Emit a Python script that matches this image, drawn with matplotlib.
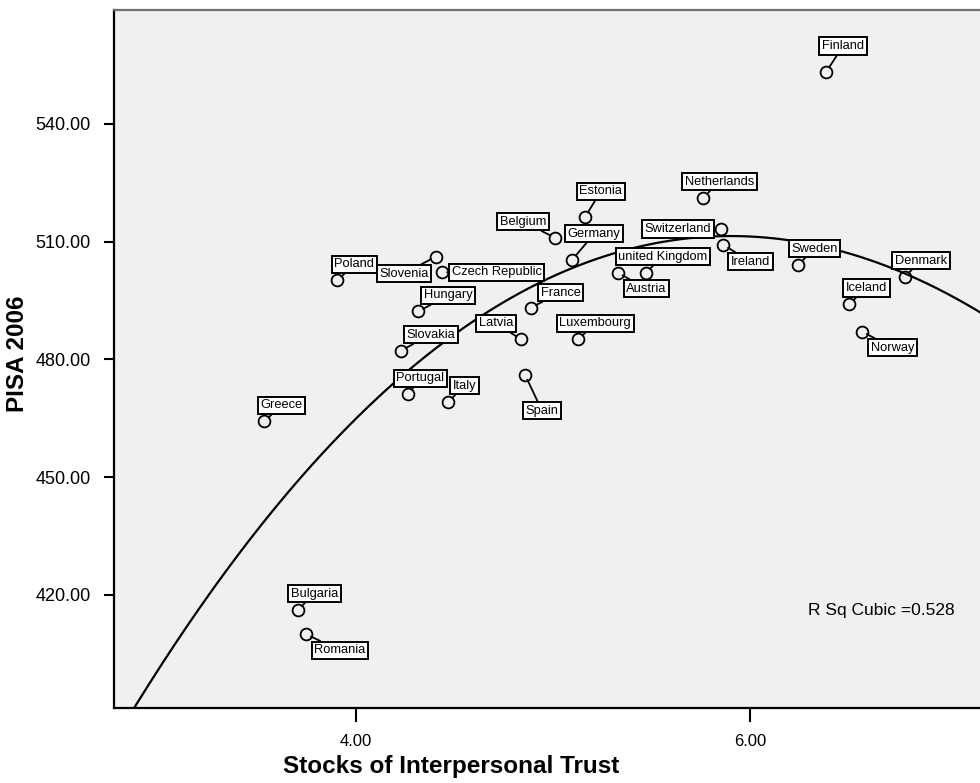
import numpy as np
import matplotlib
matplotlib.use("Agg")
import matplotlib.pyplot as plt

plt.rcParams['font.family'] = ['Liberation Sans', 'DejaVu Sans']

# values
countries = ["Finland", "Netherlands", "Estonia", "Belgium", "Switzerland", "Ireland",
			 "Germany", "Poland", "Slovenia", "Czech Republic", "Hungary", "France",
			 "Latvia", "Luxembourg", "Slovakia", "Portugal", "Italy", "Spain",
			 "Austria", "united Kingdom", "Sweden", "Denmark", "Iceland", "Norway",
			 "Greece", "Bulgaria", "Romania"]
trust = [6.386, 5.763, 5.162, 5.010, 5.853, 5.865,
		 5.098, 3.905, 4.406, 4.435, 4.316, 4.888,
		 4.838, 5.128, 4.227, 4.265, 4.469, 4.858,
		 5.328, 5.471, 6.245, 6.787, 6.504, 6.567,
		 3.535, 3.704, 3.746]
pisa = [553.2, 521.2, 516.2, 511.0, 513.2, 509.2,
		505.4, 500.1, 506.2, 502.2, 492.2, 493.2,
		485.1, 485.1, 482.2, 471.1, 469.2, 476.1,
		502.1, 502.1, 504.1, 501.1, 494.1, 487.1,
		464.2, 416.2, 410.0]
yticks = [420, 450, 480, 510, 540]
xticks = [4, 6]

# label box offsets from the point, in pixels (dx right, dy down)
offsets = {
	"Finland": (17, -26), "Netherlands": (16, -16), "Estonia": (16, -26),
	"Belgium": (-32, -16), "Switzerland": (-43, 0), "Ireland": (27, 17),
	"Germany": (22, -26), "Poland": (17, -16), "Slovenia": (-32, 17),
	"Czech Republic": (55, 0), "Hungary": (30, -16), "France": (30, -15),
	"Latvia": (-25, -16), "Luxembourg": (17, -16), "Slovakia": (30, -16),
	"Portugal": (12, -16), "Italy": (16, -16), "Spain": (17, 36),
	"Austria": (29, 16), "united Kingdom": (17, -16), "Sweden": (16, -16),
	"Denmark": (16, -16), "Iceland": (17, -16), "Norway": (31, 16),
	"Greece": (17, -16), "Bulgaria": (17, -16), "Romania": (34, 16),
}

fig = plt.figure(figsize=(9.8, 7.83), dpi=100)
ax = fig.add_axes([114/980, 75/783, 875/980, 698/783])
ax.set_facecolor("#f0f0f0")

ax.set_xlim(2.772, 7.213)
ax.set_ylim(391.2, 569.0)

# cubic fit through the points
coef = np.polyfit(trust, pisa, 3)
xs = np.linspace(2.6, 7.4, 300)
ax.plot(xs, np.polyval(coef, xs), color="black", lw=1.6, zorder=2)

ax.plot(trust, pisa, "o", ms=8.5, mfc="none", mec="black", mew=1.3, zorder=3)

px2pt = 72 / 100
for c, x, y in zip(countries, trust, pisa):
	dx, dy = offsets[c]
	ax.annotate(c, (x, y), xytext=(dx*px2pt, -dy*px2pt), textcoords="offset points",
				ha="center", va="center", fontsize=9.3, zorder=4,
				bbox=dict(boxstyle="square,pad=0.2", fc="white", ec="black", lw=1.4),
				arrowprops=dict(arrowstyle="-", color="black", lw=1.3, shrinkA=0, shrinkB=4))

ax.text(6.294, 416.0, "R Sq Cubic =0.528", fontsize=12.5, ha="left", va="center")

ax.set_yticks(yticks)
ax.set_yticklabels(["%.2f" % v for v in yticks], fontsize=13)
ax.set_xticks(xticks)
ax.set_xticklabels(["%.2f" % v for v in xticks], fontsize=12)
ax.tick_params(direction="out", length=7, width=1.5, pad=10)
ax.tick_params(axis="x", length=10, pad=9)

for s in ["left", "bottom"]:
	ax.spines[s].set_linewidth(1.6)
	ax.spines[s].set_color("black")
ax.spines["top"].set_color("#707070")
ax.spines["top"].set_linewidth(1.6)
ax.spines["right"].set_visible(False)

fig.text(451/980, 1 - 766/783, "Stocks of Interpersonal Trust", fontsize=17.5,
		 fontweight="bold", ha="center", va="center")
fig.text(17/980, 1 - 354/783, "PISA 2006", fontsize=17.5, fontweight="bold",
		 ha="center", va="center", rotation=90)

fig.savefig("out.png", dpi=100)
